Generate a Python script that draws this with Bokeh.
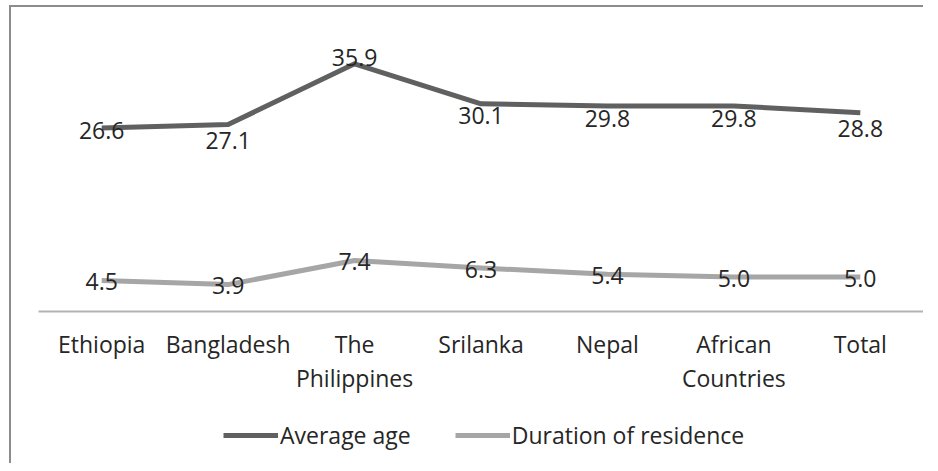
from bokeh.plotting import figure
from bokeh.layouts import column
from bokeh.models import (Range1d, ColumnDataSource, Legend, LegendItem,
                          LinearAxis, FixedTicker)
from bokeh.core.properties import value
from bokeh.embed import file_html
from bokeh.resources import INLINE

# ---- data ----
categories = ["Ethiopia", "Bangladesh", "The Philippines", "Srilanka",
              "Nepal", "African Countries", "Total"]
average_age = [26.6, 27.1, 35.9, 30.1, 29.8, 29.8, 28.8]
duration_of_residence = [4.5, 3.9, 7.4, 6.3, 5.4, 5.0, 5.0]
series_names = ["Average age", "Duration of residence"]
y_max = 40

# ---- styling (label offsets in screen px) ----
age_label_dy = [3, 16, -6, 12, 13, 13, 16]
dur_label_dy = [1, 1, 1, 1, 1, 1, 1]
FONT = "Open Sans"
FS = "23px"
TEXT_COLOR = "#262626"
AGE_COLOR = "#606060"
DUR_COLOR = "#a6a6a6"

n = len(categories)
xpos = [i + 0.5 for i in range(n)]          # category slot centres

p = figure(width=912, height=391,
           x_range=Range1d(0, n), y_range=Range1d(0, y_max),
           output_backend="svg", toolbar_location=None,
           x_axis_location=None, y_axis_location=None,
           min_border_left=27, min_border_right=0,
           min_border_top=28, min_border_bottom=87)
p.outline_line_color = None
p.xgrid.visible = False
p.ygrid.visible = False

# category labels: two-line labels split over two stacked axes
two_line = ("The Philippines", "African Countries")
line1 = [c.split(" ")[0] if c in two_line else c for c in categories]
line2 = [c.split(" ", 1)[1] if c in two_line else " " for c in categories]

def make_axis(labels, standoff, show_line):
    a = LinearAxis(ticker=FixedTicker(ticks=xpos),
                   major_label_overrides={t: l for t, l in zip(xpos, labels)})
    a.axis_line_color = "#b3b3b3" if show_line else None
    a.axis_line_width = 2
    a.major_tick_line_color = None
    a.minor_tick_line_color = None
    a.major_label_text_font = FONT
    a.major_label_text_font_size = FS
    a.major_label_text_color = TEXT_COLOR
    a.major_label_standoff = standoff
    return a

p.add_layout(make_axis(line1, 10, True), "below")
p.add_layout(make_axis(line2, -7, False), "below")

p.line(xpos, average_age, line_width=5, line_color=AGE_COLOR, line_join="round")
p.line(xpos, duration_of_residence, line_width=5, line_color=DUR_COLOR, line_join="round")

src_age = ColumnDataSource(dict(x=xpos, y=average_age,
                                t=[f"{v:.1f}" for v in average_age], dy=age_label_dy))
src_dur = ColumnDataSource(dict(x=xpos, y=duration_of_residence,
                                t=[f"{v:.1f}" for v in duration_of_residence], dy=dur_label_dy))
for src in (src_age, src_dur):
    p.text(x="x", y="y", text="t", y_offset="dy", source=src,
           text_font=value(FONT), text_font_size=value(FS),
           text_align="center", text_baseline="middle", text_color=TEXT_COLOR)

# ---- legend strip (separate figure below the chart) ----
# the series are plotted here too, but fall outside this strip's ranges,
# so only their legend swatches show
leg = figure(width=912, height=65, x_range=Range1d(0, 1), y_range=Range1d(0, 1),
             output_backend="svg", toolbar_location=None,
             x_axis_location=None, y_axis_location=None,
             min_border_left=0, min_border_right=0, min_border_top=0, min_border_bottom=0)
leg.outline_line_color = None
leg.xgrid.visible = False
leg.ygrid.visible = False
k_age = leg.line(xpos, average_age, line_width=5, line_color=AGE_COLOR)
k_dur = leg.line(xpos, [v + y_max for v in duration_of_residence], line_width=5, line_color=DUR_COLOR)
legend = Legend(items=[LegendItem(label=series_names[0], renderers=[k_age]),
                       LegendItem(label=series_names[1], renderers=[k_dur])],
                orientation="horizontal", location=(185, 12),
                glyph_width=55, glyph_height=20, label_standoff=2, spacing=44,
                label_text_font=FONT, label_text_font_size=FS,
                label_text_color=TEXT_COLOR,
                border_line_color=None, background_fill_alpha=0,
                margin=0, padding=0)
leg.add_layout(legend, "center")

layout = column(p, leg, spacing=0)
layout.styles = {"border-left": "2px solid #8c8c8c", "border-top": "2px solid #8c8c8c",
                 "margin-left": "9px", "margin-top": "5px"}

open("out.html", "w").write(file_html(layout, INLINE))
